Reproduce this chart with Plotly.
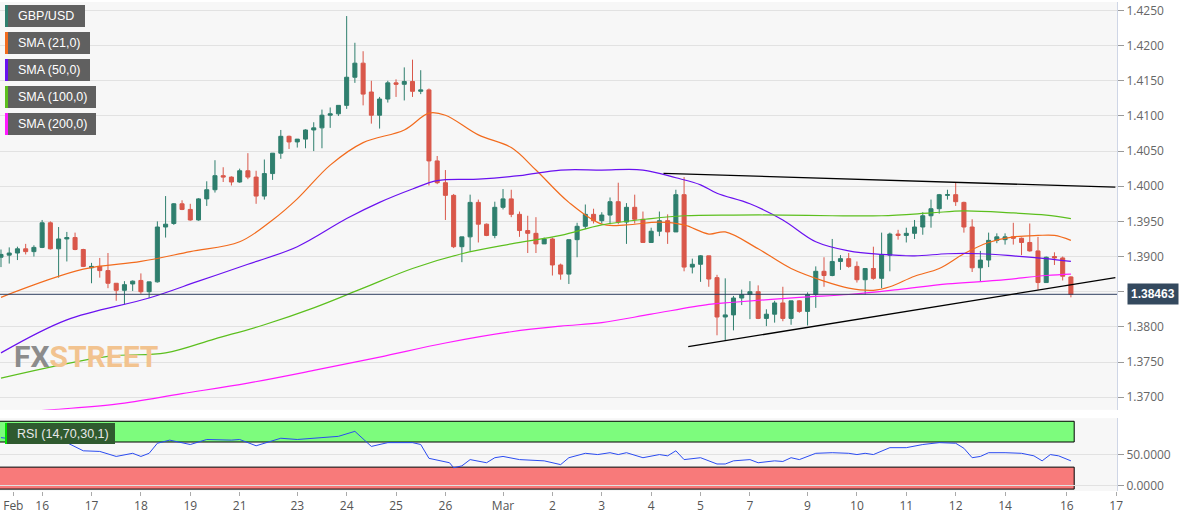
import plotly.graph_objects as go

# 4h GBP/USD candles (index = bar number)
opens = [1.3899,1.3902,1.3905,1.3911,1.3907,1.3913,1.3948,1.3911,1.3925,1.3927,
         1.3910,1.3884,1.3886,1.3880,1.3862,1.3852,1.3861,1.3866,1.3850,1.3864,
         1.3942,1.3947,1.3975,1.3967,1.3952,1.3982,1.3995,1.4015,1.4013,1.4006,
         1.4022,1.4013,1.3986,1.4018,1.4047,1.4071,1.4063,1.4067,1.4080,1.4083,
         1.4101,1.4103,1.4115,1.4155,1.4175,1.4134,1.4101,1.4124,1.4147,1.4145,
         1.4149,1.4135,1.4137,1.4036,1.4005,1.3987,1.3914,1.3928,1.3977,1.3946,
         1.3930,1.3970,1.3982,1.3960,1.3937,1.3933,1.3918,1.3925,1.3888,1.3875,
         1.3924,1.3943,1.3960,1.3951,1.3959,1.3978,1.3949,1.3970,1.3953,1.3920,
         1.3936,1.3951,1.3935,1.3988,1.3885,1.3889,1.3901,1.3870,1.3814,1.3817,
         1.3841,1.3846,1.3850,1.3812,1.3818,1.3834,1.3812,1.3837,1.3822,1.3846,
         1.3879,1.3873,1.3893,1.3897,1.3886,1.3867,1.3883,1.3869,1.3902,1.3932,
         1.3930,1.3933,1.3942,1.3958,1.3968,1.3987,1.3988,1.3977,1.3942,1.3884,
         1.3895,1.3923,1.3924,1.3928,1.3926,1.3920,1.3908,1.3863,1.3900,1.3898,
         1.3871]
highs = [1.3910,1.3913,1.3914,1.3918,1.3916,1.3952,1.3950,1.3942,1.3935,1.3934,
         1.3911,1.3891,1.3898,1.3905,1.3862,1.3865,1.3866,1.3876,1.3864,1.3950,
         1.3986,1.3976,1.3980,1.3975,1.3983,1.4007,1.4037,1.4027,1.4014,1.4025,
         1.4047,1.4022,1.4038,1.4047,1.4080,1.4072,1.4067,1.4081,1.4091,1.4109,
         1.4112,1.4115,1.4242,1.4204,1.4192,1.4150,1.4127,1.4150,1.4152,1.4169,
         1.4180,1.4165,1.4139,1.4043,1.4023,1.3989,1.3928,1.3988,1.3981,1.3947,
         1.3978,1.3996,1.3995,1.3964,1.3958,1.3956,1.3927,1.3927,1.3890,1.3924,
         1.3948,1.3974,1.3968,1.3963,1.3984,1.4005,1.3976,1.3988,1.3964,1.3941,
         1.3964,1.3960,1.3995,1.4013,1.3897,1.3902,1.3901,1.3874,1.3869,1.3844,
         1.3853,1.3865,1.3859,1.3825,1.3837,1.3857,1.3837,1.3838,1.3849,1.3886,
         1.3899,1.3925,1.3902,1.3905,1.3893,1.3883,1.3914,1.3934,1.3934,1.3938,
         1.3941,1.3952,1.3963,1.3981,1.3989,1.3995,1.4005,1.3978,1.3953,1.3908,
         1.3934,1.3933,1.3933,1.3948,1.3927,1.3947,1.3928,1.3900,1.3906,1.3900,
         1.3872]
lows = [1.3885,1.3890,1.3895,1.3903,1.3900,1.3912,1.3910,1.3870,1.3893,1.3909,
        1.3885,1.3862,1.3870,1.3855,1.3837,1.3832,1.3851,1.3847,1.3841,1.3863,
        1.3927,1.3945,1.3966,1.3951,1.3951,1.3972,1.3991,1.4006,1.4001,1.4005,
        1.4010,1.3975,1.3981,1.4009,1.4039,1.4053,1.4055,1.4054,1.4050,1.4054,
        1.4083,1.4100,1.4110,1.4147,1.4115,1.4089,1.4082,1.4119,1.4127,1.4122,
        1.4127,1.4131,1.4001,1.4003,1.3952,1.3912,1.3892,1.3908,1.3920,1.3929,
        1.3926,1.3967,1.3956,1.3928,1.3905,1.3905,1.3918,1.3873,1.3867,1.3861,
        1.3899,1.3939,1.3947,1.3947,1.3946,1.3946,1.3918,1.3947,1.3920,1.3920,
        1.3929,1.3918,1.3935,1.3879,1.3876,1.3864,1.3857,1.3788,1.3780,1.3795,
        1.3831,1.3811,1.3811,1.3801,1.3806,1.3808,1.3803,1.3820,1.3802,1.3827,
        1.3857,1.3872,1.3881,1.3884,1.3863,1.3846,1.3867,1.3855,1.3879,1.3924,
        1.3920,1.3925,1.3931,1.3941,1.3961,1.3981,1.3972,1.3934,1.3878,1.3864,
        1.3885,1.3919,1.3917,1.3917,1.3902,1.3907,1.3853,1.3863,1.3888,1.3866,
        1.3842]
closes = [1.3903,1.3905,1.3911,1.3907,1.3913,1.3948,1.3911,1.3925,1.3927,1.3910,
          1.3886,1.3886,1.3880,1.3862,1.3852,1.3860,1.3865,1.3850,1.3864,1.3942,
          1.3946,1.3975,1.3967,1.3952,1.3982,1.3995,1.4015,1.4013,1.4006,1.4022,
          1.4013,1.3986,1.4018,1.4047,1.4071,1.4063,1.4067,1.4080,1.4083,1.4101,
          1.4103,1.4115,1.4155,1.4175,1.4131,1.4101,1.4124,1.4147,1.4145,1.4149,
          1.4135,1.4137,1.4036,1.4005,1.3987,1.3914,1.3928,1.3977,1.3946,1.3930,
          1.3970,1.3982,1.3960,1.3937,1.3933,1.3918,1.3925,1.3888,1.3875,1.3924,
          1.3943,1.3960,1.3951,1.3959,1.3978,1.3949,1.3970,1.3953,1.3920,1.3936,
          1.3951,1.3935,1.3988,1.3885,1.3889,1.3901,1.3868,1.3814,1.3817,1.3841,
          1.3846,1.3850,1.3812,1.3818,1.3834,1.3812,1.3837,1.3822,1.3846,1.3879,
          1.3873,1.3893,1.3897,1.3886,1.3867,1.3883,1.3869,1.3902,1.3932,1.3930,
          1.3933,1.3942,1.3958,1.3968,1.3988,1.3988,1.3978,1.3942,1.3884,1.3895,
          1.3923,1.3928,1.3928,1.3926,1.3920,1.3908,1.3863,1.3899,1.3898,1.3872,
          1.3846]

sma21_x = [0,10,17,23,29,33,36,40,44,49,52,54,58,62,65,69,73,76,80,83,86,88,92,96,100,103,106,108,111,114,117,120,123,126,128,130]
sma21_y = [1.3842,1.3882,1.3893,1.3907,1.3921,1.3952,1.3982,1.4030,1.4062,1.4080,1.4104,1.4101,1.4073,1.4055,1.4023,1.3977,
           1.3946,1.3945,1.3949,1.3945,1.3932,1.3935,1.3911,1.3883,1.3865,1.3855,1.3852,1.3857,1.3872,1.3883,1.3904,1.3920,
           1.3928,1.3930,1.3930,1.3923]
sma50_x = [0,8,18,24,30,36,42,46,50,53,58,63,68,73,78,82,85,87,91,95,99,103,107,111,115,119,123,127,130]
sma50_y = [1.3763,1.3810,1.3841,1.3865,1.3889,1.3914,1.3954,1.3977,1.3996,1.4008,1.4010,1.4015,1.4023,1.4023,1.4023,1.4012,
           1.4002,1.3990,1.3975,1.3952,1.3921,1.3908,1.3903,1.3901,1.3904,1.3904,1.3901,1.3897,1.3893]
sma100_x = [0,13,20,26,32,38,44,50,56,62,68,73,79,83,89,95,101,107,113,117,123,127,130]
sma100_y = [1.3727,1.3758,1.3763,1.3783,1.3803,1.3827,1.3855,1.3883,1.3904,1.3918,1.3930,1.3945,1.3954,1.3958,1.3959,1.3959,
            1.3958,1.3958,1.3962,1.3965,1.3962,1.3959,1.3954]
sma200_x = [0,6,14,22,30,38,46,54,62,68,73,79,86,89,97,103,109,115,121,127,130]
sma200_y = [1.3676,1.3682,1.3690,1.3705,1.3720,1.3738,1.3757,1.3777,1.3793,1.3801,1.3806,1.3818,1.3832,1.3835,1.3842,1.3846,
            1.3853,1.3861,1.3866,1.3873,1.3875]

rsi_x = [0,5,8,10,12,14,16,17,18,19,20.5,23,25,28,29,31,34,36,39,41,43,45,47,50,51,52,54.5,55,56,57,
         59,60,61,63,66,68,69,71,72.5,74,75,76,78,80,81,82,83,85,87,88,89,91,92,94,95,96,97,99,101,103,
         104,105,106,108,110,112,114,116,117,118,119,120,122,124,125.5,126.5,127.5,128.5,130]
rsi_y = [77,69,69,56,55,47,52,47,52,68,73,66,74,73,74,64,76,74,77,79,87,63,69,69,66,44,37,29,32,42,
         37,45,47,42,40,34,45,52,50,53,50,53,45,50,48,56,42,45,35,35,40,42,37,40,39,45,42,52,53,52,
         50,52,50,61,61,66,69,68,60,45,47,53,53,52,48,40,50,48,40]

last_price = 1.38463
upper_line = ([80.5, 135.4], [1.40183, 1.39986])
lower_line = ([83.5, 135.4], [1.37718, 1.38700])

tick_pos = [1.5,5,11,17,23,29,36,42,48,54,61,67,73,79,85,91,98,104,110,116,122,129.5,135.5]
tick_text = ["Feb","16","17","18","19","21","23","24","25","26","Mar","2","3","4","5","7","9","10","11","12","14","16","17"]

legend_names = ["GBP/USD", "SMA (21,0)", "SMA (50,0)", "SMA (100,0)", "SMA (200,0)"]
legend_colors = ["#2f7f6e", "#f26b1d", "#6a11f0", "#5cbf1e", "#ff1aff"]

W, H = 1194, 513
ML, MR, MT, MB = 0, 77, 2, 22
PW, PH = W - ML - MR, H - MT - MB


def px(xp):
    return (xp - ML) / PW


def py(yp):
    return (H - MB - yp) / PH


fig = go.Figure()
fig.add_trace(go.Candlestick(
    x=list(range(len(opens))), open=opens, high=highs, low=lows, close=closes,
    increasing=dict(line=dict(color="#2f7f6e", width=1), fillcolor="#2f7f6e"),
    decreasing=dict(line=dict(color="#d9574a", width=1), fillcolor="#d9574a"),
    whiskerwidth=0, showlegend=False, hoverinfo="skip"))
for xs, ys, c in [(sma21_x, sma21_y, "#f26b1d"), (sma50_x, sma50_y, "#6a11f0"),
                  (sma100_x, sma100_y, "#5cbf1e"), (sma200_x, sma200_y, "#ff1aff")]:
    fig.add_trace(go.Scatter(x=xs, y=ys, mode="lines", line=dict(color=c, width=1.2, shape="spline"),
                             showlegend=False, hoverinfo="skip"))
fig.add_trace(go.Scatter(x=rsi_x, y=rsi_y, mode="lines", yaxis="y2",
                         line=dict(color="#2a4bf0", width=1), showlegend=False, hoverinfo="skip"))

shapes = [
    dict(type="line", xref="paper", yref="y", x0=0, x1=1, y0=last_price, y1=last_price,
         line=dict(color="#2d3e5e", width=1)),
    dict(type="line", xref="x", yref="y", x0=upper_line[0][0], x1=upper_line[0][1],
         y0=upper_line[1][0], y1=upper_line[1][1], line=dict(color="black", width=1.3)),
    dict(type="line", xref="x", yref="y", x0=lower_line[0][0], x1=lower_line[0][1],
         y0=lower_line[1][0], y1=lower_line[1][1], line=dict(color="black", width=1.3)),
    dict(type="rect", xref="x", yref="y2", x0=-0.5, x1=130.4, y0=70, y1=103,
         fillcolor="#7dfc7d", line=dict(color="black", width=1), layer="below"),
    dict(type="rect", xref="x", yref="y2", x0=-0.5, x1=130.4, y0=-5, y1=30,
         fillcolor="#f87a7a", line=dict(color="black", width=1), layer="below"),
]
annotations = []
box_w = [80, 85, 85, 91, 91]
for k, (name, col) in enumerate(zip(legend_names, legend_colors)):
    top = 5 + 27 * k
    shapes.append(dict(type="rect", xref="paper", yref="paper", x0=px(5), x1=px(5 + box_w[k]),
                       y0=py(top + 22), y1=py(top), fillcolor="#606060", line=dict(width=0)))
    shapes.append(dict(type="rect", xref="paper", yref="paper", x0=px(5), x1=px(8),
                       y0=py(top + 22), y1=py(top), fillcolor=col, line=dict(width=0)))
    annotations.append(dict(xref="paper", yref="paper", x=px(16), y=py(top + 11), text=name,
                            showarrow=False, xanchor="left", yanchor="middle",
                            font=dict(color="white", size=12.5, family="Arial")))
# RSI label
shapes.append(dict(type="rect", xref="paper", yref="paper", x0=px(5), x1=px(115),
                   y0=py(444), y1=py(423), fillcolor="#2f5a2f", line=dict(width=0)))
shapes.append(dict(type="rect", xref="paper", yref="paper", x0=px(5), x1=px(7),
                   y0=py(444), y1=py(423), fillcolor="#00e000", line=dict(width=0)))
annotations.append(dict(xref="paper", yref="paper", x=px(15), y=py(433.5), text="RSI (14,70,30,1)",
                        showarrow=False, xanchor="left", yanchor="middle",
                        font=dict(color="#e8e8e8", size=12.5, family="Arial")))
annotations.append(dict(xref="paper", yref="y", x=1, y=last_price, xanchor="left", xshift=10,
                        text="<b>1.38463</b>", showarrow=False, bgcolor="#34495e", borderpad=3,
                        font=dict(color="white", size=12, family="Arial")))
annotations.append(dict(xref="paper", yref="paper", x=px(12), y=py(376), xanchor="left",
                        text="<b><span style='color:#8c8c8c'>FX</span><span style='color:#f2c38f'>STREET</span></b>",
                        showarrow=False, font=dict(size=30, family="Liberation Sans Narrow, Roboto")))

fig.update_layout(
    width=W, height=H, margin=dict(l=ML, r=MR, t=MT, b=MB),
    paper_bgcolor="white", plot_bgcolor="#f7f7f7",
    shapes=shapes, annotations=annotations,
    xaxis=dict(range=[-0.12, 135.6], anchor="y2", rangeslider=dict(visible=False),
               tickvals=tick_pos, ticktext=tick_text, showgrid=False, zeroline=False,
               ticks="outside", ticklen=4, tickcolor="#aaa", tickfont=dict(size=12, color="#555")),
    yaxis=dict(domain=[0.166, 1], range=[1.3682, 1.4262], side="right", anchor="x",
               tickvals=[1.37 + 0.005 * k for k in range(12)], tickformat=".4f",
               gridcolor="#e2e2e2", zeroline=False, ticks="outside", ticklen=6, tickcolor="#999",
               showline=True, linecolor="#cfd6e6", tickfont=dict(size=12, color="#666")),
    yaxis2=dict(domain=[0, 0.149], range=[-8, 108], side="right", anchor="x",
                tickvals=[0, 50], tickformat=".4f", gridcolor="#e2e2e2", zeroline=False,
                ticks="outside", ticklen=6, tickcolor="#999",
                showline=True, linecolor="#cfd6e6", tickfont=dict(size=12, color="#666")),
)

fig.write_html("out.html", config={"displayModeBar": False},
               post_script="document.body.style.margin='0';")
